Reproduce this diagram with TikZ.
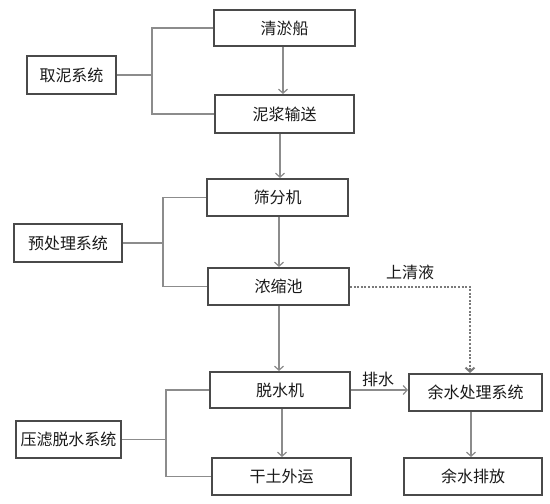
\documentclass[tikz,border=0pt]{standalone}
\usepackage{fontspec}
\setmainfont{Noto Sans CJK SC}
\usetikzlibrary{arrows.meta}
\definecolor{boxline}{HTML}{4A4A4A}
\definecolor{connline}{HTML}{8C8C8C}
\definecolor{dotline}{HTML}{7A7A7A}
\begin{document}
\begin{tikzpicture}[x=1pt,y=-1pt,
  every node/.style={font=\fontsize{16}{19}\selectfont, text=black!90},
  box/.style={draw=boxline, line width=1.6pt, rectangle, inner sep=0pt, anchor=center},
  conn/.style={draw=connline, line width=1.2pt},
  arr/.style={conn, -{Straight Barb[length=4pt,width=9pt]}},
  dotconn/.style={arr, dash pattern=on 2pt off 1.6pt, line width=2pt, draw=dotline},
  lbl/.style={inner sep=0pt}
]
\useasboundingbox[fill=white] (0,0) rectangle (550,504);
% boxes
\node[box, minimum width=141pt, minimum height=36.5pt] (qy) at (284.5,28) {清淤船};
\node[box, minimum width=139.5pt, minimum height=38.5pt] (nj) at (284.5,114) {泥浆输送};
\node[box, minimum width=89.5pt, minimum height=38.5pt] (qn) at (71.5,75) {取泥系统};
\node[box, minimum width=141.5pt, minimum height=37.5pt] (sf) at (277.5,197.5) {筛分机};
\node[box, minimum width=141.5pt, minimum height=37.5pt] (ns) at (278.5,286.5) {浓缩池};
\node[box, minimum width=108.5pt, minimum height=38.5pt] (yc) at (68,243) {预处理系统};
\node[box, minimum width=140.5pt, minimum height=36.5pt] (ts) at (280,390) {脱水机};
\node[box, minimum width=139.5pt, minimum height=37.5pt] (gt) at (281.5,476.5) {干土外运};
\node[box, minimum width=105.5pt, minimum height=37.5pt] (yl) at (68.5,439.5) {压滤脱水系统};
\node[box, minimum width=133.5pt, minimum height=37.5pt] (ysc) at (475.5,392.5) {余水处理系统};
\node[box, minimum width=138.5pt, minimum height=37.5pt] (yp) at (473,476.5) {余水排放};
% bracket junctions
\coordinate (b1) at (152,75);
\coordinate (b2) at (163,243);
\coordinate (b3) at (166,439.5);
% brackets
\draw[conn] (qn.east) -- (b1);
\draw[conn] (qy.west) -| (b1) |- (nj.west);
\draw[conn] (yc.east) -- (b2);
\draw[conn] (sf.west) -| (b2) |- (ns.west);
\draw[conn] (yl.east) -- (b3);
\draw[conn] (ts.west) -| (b3) |- (gt.west);
% flow arrows
\draw[arr] (283,0 |- qy.south) -- (283,0 |- nj.north);
\draw[arr] (280,0 |- nj.south) -- (280,0 |- sf.north);
\draw[arr] (279,0 |- sf.south) -- (279,0 |- ns.north);
\draw[arr] (279,0 |- ns.south) -- (279,0 |- ts.north);
\draw[arr] (282,0 |- ts.south) -- (282,0 |- gt.north);
\draw[arr] (471,0 |- ysc.south) -- (471,0 |- yp.north);
\draw[arr] (ts.east) -- (ts.east -| ysc.west);
\draw[dotconn] (ns.east) -| (470,0 |- ysc.north);
% labels
\node[lbl] (lq) at (410,272) {上清液};
\node[lbl] (lp) at (378,379) {排水};
\end{tikzpicture}
\end{document}
